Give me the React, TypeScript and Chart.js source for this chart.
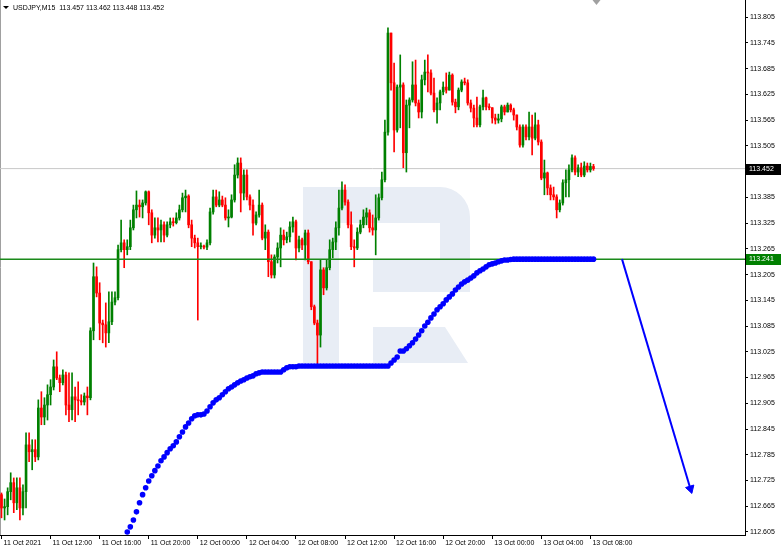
import React, { useEffect, useRef } from "react";
import { Chart, registerables } from "chart.js";

Chart.register(...registerables);

const SYMBOL_TITLE = "USDJPY,M15  113.457 113.462 113.448 113.452";
const FIRST_OPEN = 112.692;

const CLOSES = [
  112.661, 112.664, 112.699, 112.720, 112.673, 112.708, 112.661, 112.699, 112.808, 112.792,
  112.797, 112.780, 112.894, 112.873, 112.901, 112.925, 112.943, 112.990, 112.964, 112.953,
  112.971, 112.901, 112.890, 112.920, 112.913, 112.911, 112.908, 112.922, 112.918, 113.074,
  113.200, 113.162, 113.092, 113.088, 113.069, 113.095, 113.141, 113.151, 113.263, 113.279,
  113.263, 113.270, 113.314, 113.356, 113.367, 113.363, 113.372, 113.398, 113.349, 113.297,
  113.314, 113.309, 113.321, 113.297, 113.321, 113.328, 113.326, 113.337, 113.356, 113.384,
  113.388, 113.321, 113.290, 113.279, 113.270, 113.271, 113.269, 113.279, 113.351, 113.386,
  113.367, 113.379, 113.367, 113.337, 113.339, 113.379, 113.437, 113.465, 113.395, 113.437,
  113.386, 113.367, 113.325, 113.344, 113.367, 113.290, 113.304, 113.235, 113.204, 113.246,
  113.267, 113.297, 113.286, 113.293, 113.316, 113.328, 113.267, 113.286, 113.274, 113.302,
  113.235, 113.130, 113.092, 113.064, 113.216, 113.174, 113.221, 113.263, 113.281, 113.314,
  113.360, 113.402, 113.374, 113.321, 113.270, 113.267, 113.304, 113.321, 113.339, 113.349,
  113.314, 113.309, 113.337, 113.384, 113.426, 113.537, 113.768, 113.652, 113.542, 113.642,
  113.647, 113.489, 113.600, 113.612, 113.647, 113.605, 113.584, 113.659, 113.677, 113.675,
  113.628, 113.589, 113.605, 113.631, 113.642, 113.635, 113.670, 113.607, 113.596, 113.635,
  113.654, 113.652, 113.605, 113.593, 113.570, 113.554, 113.596, 113.617, 113.596, 113.594,
  113.570, 113.565, 113.568, 113.596, 113.584, 113.600, 113.589, 113.577, 113.549, 113.507,
  113.549, 113.526, 113.549, 113.523, 113.554, 113.514, 113.430, 113.442, 113.407, 113.391,
  113.386, 113.356, 113.372, 113.419, 113.426, 113.449, 113.477, 113.444, 113.454, 113.437,
  113.458, 113.449, 113.457, 113.452,
];

const HIGHS = [
  112.696, 112.682, 112.708, 112.743, 112.731, 112.731, 112.731, 112.715, 112.836, 112.836,
  112.820, 112.820, 112.913, 112.932, 112.918, 112.948, 112.960, 113.006, 113.025, 112.971,
  112.983, 112.978, 112.976, 112.976, 112.943, 112.955, 112.925, 112.929, 112.943, 113.081,
  113.232, 113.223, 113.186, 113.099, 113.139, 113.165, 113.165, 113.165, 113.274, 113.332,
  113.286, 113.286, 113.332, 113.367, 113.400, 113.379, 113.379, 113.400, 113.400, 113.356,
  113.337, 113.337, 113.332, 113.328, 113.328, 113.337, 113.337, 113.349, 113.367, 113.395,
  113.402, 113.391, 113.332, 113.297, 113.290, 113.279, 113.274, 113.286, 113.360, 113.402,
  113.402, 113.398, 113.388, 113.384, 113.356, 113.391, 113.461, 113.477, 113.477, 113.449,
  113.449, 113.391, 113.379, 113.351, 113.402, 113.372, 113.321, 113.309, 113.251, 113.251,
  113.279, 113.314, 113.309, 113.304, 113.328, 113.339, 113.332, 113.295, 113.290, 113.309,
  113.309, 113.235, 113.134, 113.099, 113.239, 113.221, 113.239, 113.286, 113.290, 113.328,
  113.402, 113.421, 113.414, 113.379, 113.351, 113.286, 113.314, 113.332, 113.356, 113.360,
  113.356, 113.344, 113.391, 113.393, 113.444, 113.565, 113.780, 113.768, 113.698, 113.647,
  113.717, 113.652, 113.612, 113.617, 113.701, 113.705, 113.612, 113.670, 113.705, 113.717,
  113.682, 113.663, 113.617, 113.635, 113.654, 113.675, 113.677, 113.673, 113.614, 113.640,
  113.659, 113.663, 113.659, 113.612, 113.600, 113.619, 113.600, 113.635, 113.619, 113.603,
  113.593, 113.579, 113.579, 113.600, 113.600, 113.605, 113.603, 113.593, 113.575, 113.554,
  113.554, 113.554, 113.584, 113.577, 113.582, 113.565, 113.519, 113.472, 113.444, 113.414,
  113.409, 113.391, 113.379, 113.426, 113.449, 113.461, 113.484, 113.482, 113.461, 113.465,
  113.468, 113.465, 113.465, 113.462,
];

const LOWS = [
  112.638, 112.633, 112.645, 112.680, 112.650, 112.657, 112.633, 112.645, 112.661, 112.769,
  112.750, 112.769, 112.773, 112.855, 112.855, 112.866, 112.901, 112.936, 112.960, 112.932,
  112.948, 112.878, 112.862, 112.866, 112.862, 112.878, 112.901, 112.901, 112.878, 112.913,
  113.053, 113.153, 113.053, 113.046, 113.036, 113.046, 113.088, 113.134, 113.146, 113.258,
  113.221, 113.251, 113.263, 113.309, 113.337, 113.339, 113.337, 113.367, 113.321, 113.279,
  113.290, 113.281, 113.281, 113.281, 113.293, 113.314, 113.318, 113.323, 113.332, 113.351,
  113.351, 113.314, 113.270, 113.267, 113.099, 113.265, 113.265, 113.263, 113.274, 113.346,
  113.363, 113.363, 113.363, 113.332, 113.316, 113.337, 113.374, 113.430, 113.351, 113.379,
  113.379, 113.356, 113.297, 113.321, 113.339, 113.286, 113.263, 113.200, 113.197, 113.197,
  113.232, 113.223, 113.274, 113.279, 113.281, 113.304, 113.239, 113.258, 113.263, 113.239,
  113.230, 113.123, 113.088, 112.995, 113.036, 113.158, 113.169, 113.216, 113.244, 113.263,
  113.297, 113.356, 113.367, 113.314, 113.263, 113.223, 113.263, 113.300, 113.314, 113.321,
  113.304, 113.297, 113.251, 113.332, 113.379, 113.421, 113.530, 113.635, 113.491, 113.537,
  113.547, 113.454, 113.444, 113.547, 113.607, 113.598, 113.570, 113.570, 113.647, 113.631,
  113.624, 113.584, 113.558, 113.589, 113.624, 113.628, 113.635, 113.600, 113.582, 113.589,
  113.631, 113.647, 113.600, 113.584, 113.549, 113.549, 113.549, 113.589, 113.589, 113.589,
  113.558, 113.556, 113.558, 113.561, 113.577, 113.584, 113.584, 113.565, 113.542, 113.502,
  113.502, 113.519, 113.519, 113.484, 113.519, 113.507, 113.426, 113.391, 113.391, 113.379,
  113.379, 113.337, 113.351, 113.367, 113.386, 113.386, 113.444, 113.437, 113.433, 113.433,
  113.433, 113.444, 113.444, 113.448,
];

const DOTS_START = 41;
const DOTS = [
  112.605, 112.617, 112.633, 112.652, 112.673, 112.692, 112.708, 112.724, 112.736, 112.748,
  112.759, 112.771, 112.780, 112.790, 112.799, 112.806, 112.815, 112.827, 112.838, 112.850,
  112.859, 112.869, 112.876, 112.878, 112.878, 112.880, 112.887, 112.897, 112.906, 112.913,
  112.918, 112.925, 112.932, 112.939, 112.943, 112.948, 112.953, 112.957, 112.960, 112.964,
  112.967, 112.969, 112.974, 112.976, 112.978, 112.978, 112.978, 112.978, 112.978, 112.978,
  112.978, 112.983, 112.988, 112.990, 112.990, 112.990, 112.992, 112.992, 112.992, 112.992,
  112.992, 112.992, 112.992, 112.992, 112.992, 112.992, 112.992, 112.992, 112.992, 112.992,
  112.992, 112.992, 112.992, 112.992, 112.992, 112.992, 112.992, 112.992, 112.992, 112.992,
  112.992, 112.992, 112.992, 112.992, 112.992, 112.992, 112.999, 113.006, 113.013, 113.027,
  113.027, 113.032, 113.039, 113.046, 113.055, 113.064, 113.074, 113.085, 113.094, 113.104,
  113.113, 113.123, 113.130, 113.137, 113.146, 113.153, 113.160, 113.169, 113.176, 113.183,
  113.188, 113.192, 113.197, 113.202, 113.209, 113.214, 113.218, 113.223, 113.228, 113.230,
  113.232, 113.235, 113.237, 113.239, 113.239, 113.240, 113.241, 113.241, 113.241, 113.241,
  113.241, 113.241, 113.241, 113.241, 113.241, 113.241, 113.241, 113.241, 113.241, 113.241,
  113.241, 113.241, 113.241, 113.241, 113.241, 113.241, 113.241, 113.241, 113.241, 113.241,
  113.241, 113.241, 113.241,
];

const LEVEL = 113.241;
const LAST_PRICE = 113.452;
const ARROW_FROM = { bar: 202.3, price: 113.241 };
const ARROW_TO = { bar: 224.6, price: 112.706 };

const Y_TICKS = [
  113.805, 113.745, 113.685, 113.625, 113.565, 113.505, 113.445, 113.385, 113.325, 113.265,
  113.205, 113.145, 113.085, 113.025, 112.965, 112.905, 112.845, 112.785, 112.725, 112.665,
  112.605,
];
const Y_MIN = 112.598;
const Y_MAX = 113.845;

const X_TICK_BARS = [0, 16, 32, 48, 64, 80, 96, 112, 128, 144, 160, 176, 192];
const X_TICK_LABELS = [
  "11 Oct 2021", "11 Oct 12:00", "11 Oct 16:00", "11 Oct 20:00", "12 Oct 00:00",
  "12 Oct 04:00", "12 Oct 08:00", "12 Oct 12:00", "12 Oct 16:00", "12 Oct 20:00",
  "13 Oct 00:00", "13 Oct 04:00", "13 Oct 08:00",
];
const X_MIN = -0.49;
const X_MAX = 242.4;

const FONT = '"Liberation Sans", Arial, sans-serif';
const GREEN = "#008000";
const RED = "#ff0000";
const BLUE = "#0000ff";

const decor = {
  id: "decor",
  beforeDatasetsDraw(chart: any) {
    const ctx = chart.ctx;
    const a = chart.chartArea;
    ctx.save();
    // watermark logo
    ctx.fillStyle = "#e8edf5";
    const L = a.left;
    const T = a.top;
    ctx.fillRect(L + 303, T + 187, 36, 176);
    ctx.beginPath();
    ctx.moveTo(L + 339, T + 187);
    ctx.lineTo(L + 440, T + 187);
    ctx.arcTo(L + 470, T + 187, L + 470, T + 217, 30);
    ctx.lineTo(L + 470, T + 292);
    ctx.lineTo(L + 373, T + 292);
    ctx.lineTo(L + 373, T + 260);
    ctx.lineTo(L + 440, T + 260);
    ctx.lineTo(L + 440, T + 223);
    ctx.lineTo(L + 339, T + 223);
    ctx.closePath();
    ctx.fill();
    ctx.beginPath();
    ctx.moveTo(L + 373, T + 327);
    ctx.lineTo(L + 445, T + 327);
    ctx.lineTo(L + 468, T + 363);
    ctx.lineTo(L + 373, T + 363);
    ctx.closePath();
    ctx.fill();
    // left frame
    ctx.strokeStyle = "#a0a0a0";
    ctx.lineWidth = 1;
    ctx.beginPath();
    ctx.moveTo(a.left + 0.5, a.top);
    ctx.lineTo(a.left + 0.5, a.bottom);
    ctx.stroke();
    ctx.restore();
  },
  afterDraw(chart: any) {
    const ctx = chart.ctx;
    const ys = chart.scales.y;
    const xs = chart.scales.x;
    ctx.save();
    ctx.font = `7px ${FONT}`;
    ctx.textBaseline = "middle";
    ctx.textAlign = "left";
    const boxes: [number, string][] = [
      [LAST_PRICE, "#000000"],
      [LEVEL, GREEN],
    ];
    boxes.forEach(([v, col]) => {
      const py = ys.getPixelForValue(v);
      ctx.fillStyle = col;
      ctx.fillRect(ys.left + 1, Math.round(py) - 5, 35, 11);
      ctx.fillStyle = "#ffffff";
      ctx.fillText(v.toFixed(3), ys.left + 4, Math.round(py) + 0.5);
    });
    // title
    ctx.fillStyle = "#000";
    ctx.beginPath();
    ctx.moveTo(3, 6);
    ctx.lineTo(9, 6);
    ctx.lineTo(6, 9);
    ctx.closePath();
    ctx.fill();
    ctx.fillText(SYMBOL_TITLE, 13, 8);
    // chart shift marker
    const mx = xs.getPixelForValue(CLOSES.length - 1) + 3;
    ctx.fillStyle = "#a0a0a0";
    ctx.beginPath();
    ctx.moveTo(mx - 4, 0);
    ctx.lineTo(mx + 4, 0);
    ctx.lineTo(mx, 5);
    ctx.closePath();
    ctx.fill();
    ctx.restore();
  },
};

export default function App() {
  const ref = useRef<HTMLCanvasElement | null>(null);
  useEffect(() => {
    if (!ref.current) return;
    const bars = CLOSES.map((c, i) => {
      const o = i === 0 ? FIRST_OPEN : CLOSES[i - 1];
      const h = Math.max(HIGHS[i], o, c);
      const l = Math.min(LOWS[i], o, c);
      return { i, o, c, h, l };
    });
    const colorOf = (b: any) => (b.c > b.o ? GREEN : b.c < b.o ? RED : "#000000");
    const colors = bars.map(colorOf);

    const chart = new Chart(ref.current, {
      type: "bar",
      data: {
        datasets: [
          {
            type: "line",
            data: DOTS.map((v, k) => ({ x: DOTS_START + k, y: v })),
            showLine: false,
            pointRadius: 2.8,
            pointBackgroundColor: BLUE,
            pointBorderWidth: 0,
            borderColor: BLUE,
            order: 0,
          } as any,
          {
            type: "line",
            data: [
              { x: ARROW_FROM.bar, y: ARROW_FROM.price },
              { x: ARROW_TO.bar, y: ARROW_TO.price },
            ],
            borderColor: BLUE,
            borderWidth: 2,
            pointRadius: [0, 5],
            pointStyle: "triangle",
            pointRotation: [0, 163],
            pointBackgroundColor: BLUE,
            pointBorderColor: BLUE,
            pointBorderWidth: 1,
            order: 0,
          } as any,
          {
            type: "line",
            data: [
              { x: X_MIN, y: LEVEL },
              { x: X_MAX, y: LEVEL },
            ],
            borderColor: "#1b8a1b",
            borderWidth: 1.5,
            pointRadius: 0,
            order: 1,
          } as any,
          {
            type: "bar",
            data: bars.map((b) => ({ x: b.i, y: [Math.min(b.o, b.c), Math.max(b.o, b.c)] })),
            backgroundColor: colors,
            barThickness: 2,
            minBarLength: 1,
            grouped: false,
            order: 2,
          } as any,
          {
            type: "bar",
            data: bars.map((b) => ({ x: b.i, y: [b.l, b.h] })),
            backgroundColor: colors,
            barThickness: 1,
            grouped: false,
            order: 3,
          } as any,
          {
            type: "line",
            data: [
              { x: X_MIN, y: LAST_PRICE },
              { x: X_MAX, y: LAST_PRICE },
            ],
            borderColor: "#c8c8c8",
            borderWidth: 1,
            pointRadius: 0,
            order: 4,
          } as any,
        ],
      },
      options: {
        responsive: false,
        animation: false,
        devicePixelRatio: 1,
        layout: { padding: 0, autoPadding: false },
        plugins: { legend: { display: false }, tooltip: { enabled: false } },
        scales: {
          x: {
            type: "linear",
            min: X_MIN,
            max: X_MAX,
            offset: false,
            afterBuildTicks: (s: any) => {
              s.ticks = X_TICK_BARS.map((v) => ({ value: v }));
            },
            afterFit: (s: any) => {
              s.height = 16;
              s.paddingLeft = 0;
              s.paddingRight = 0;
            },
            ticks: {
              callback: (_v: any, idx: number) => X_TICK_LABELS[idx] ?? "",
              align: "start",
              labelOffset: 2,
              autoSkip: false,
              maxRotation: 0,
              padding: 0,
              color: "#000",
              font: { family: FONT, size: 7 },
            },
            grid: { drawOnChartArea: false, drawTicks: true, tickLength: 4, color: "#000", offset: false },
            border: { display: true, color: "#000" },
          },
          y: {
            type: "linear",
            position: "right",
            min: Y_MIN,
            max: Y_MAX,
            afterBuildTicks: (s: any) => {
              s.ticks = Y_TICKS.map((v) => ({ value: v }));
            },
            afterFit: (s: any) => {
              s.width = 37;
              s.paddingTop = 0;
              s.paddingBottom = 0;
            },
            ticks: {
              callback: (v: any) => Number(v).toFixed(3),
              padding: 2,
              color: "#000",
              font: { family: FONT, size: 7 },
            },
            grid: { drawOnChartArea: false, drawTicks: true, tickLength: 3, color: "#000" },
            border: { display: true, color: "#000" },
          },
        },
      } as any,
      plugins: [decor],
    });
    return () => chart.destroy();
  }, []);

  return (
    <div style={{ position: "fixed", left: 0, top: 0, width: 782, height: 551, background: "#fff" }}>
      <canvas ref={ref} width={782} height={551} style={{ display: "block" }} />
    </div>
  );
}
